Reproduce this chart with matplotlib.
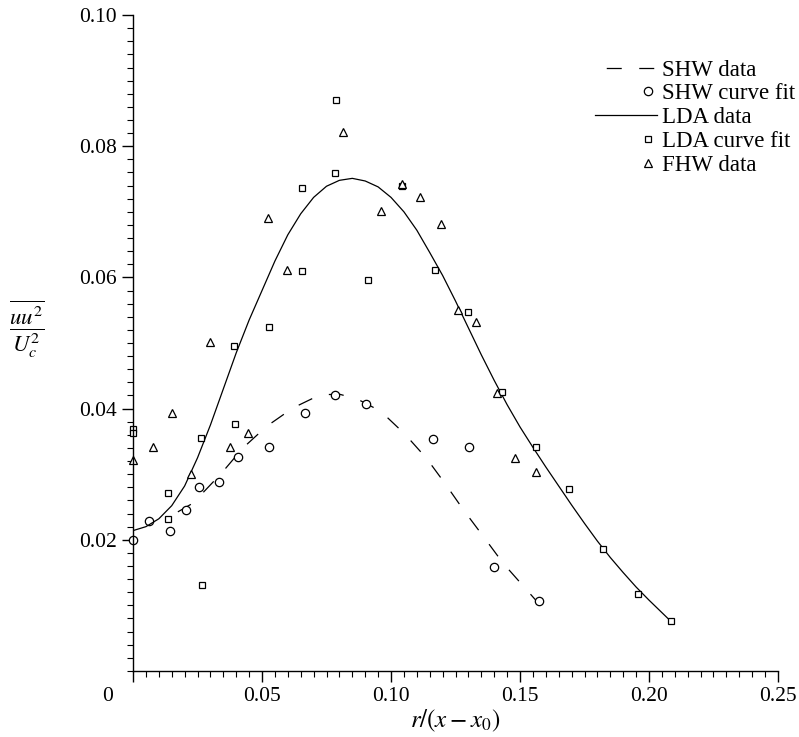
import matplotlib
matplotlib.use('Agg')
import matplotlib.pyplot as plt
import matplotlib.transforms as mtransforms
from matplotlib.legend_handler import HandlerLine2D
from matplotlib.ticker import MultipleLocator

plt.rcParams['font.family'] = ['Liberation Serif', 'DejaVu Serif']
plt.rcParams['mathtext.fontset'] = 'stix'

# SHW curve fit (circles)
shw_x = [0.0, 0.0063, 0.0143, 0.0205, 0.0255, 0.0335, 0.0406, 0.0527, 0.0667, 0.0784,
         0.0903, 0.1164, 0.1301, 0.1400, 0.1574]
shw_y = [0.0200, 0.0228, 0.0214, 0.0245, 0.0280, 0.0288, 0.0326, 0.0341, 0.0393, 0.0421,
         0.0407, 0.0354, 0.0342, 0.0158, 0.0106]

# LDA curve fit (squares)
lda_x = [0.0, 0.0, 0.0134, 0.0134, 0.0264, 0.0266, 0.0393, 0.0395, 0.0526, 0.0656, 0.0656,
         0.0784, 0.0787, 0.0911, 0.1041, 0.1172, 0.1298, 0.1429, 0.1561, 0.1691, 0.1823,
         0.1956, 0.2084]
lda_y = [0.0369, 0.0363, 0.0271, 0.0231, 0.0355, 0.0131, 0.0495, 0.0376, 0.0525, 0.0737,
         0.0610, 0.0759, 0.0870, 0.0596, 0.0740, 0.0611, 0.0548, 0.0425, 0.0341, 0.0277,
         0.0186, 0.0118, 0.0076]

# FHW data (triangles)
fhw_x = [0.0, 0.0076, 0.0152, 0.0224, 0.0298, 0.0376, 0.0444, 0.0524, 0.0596, 0.0813,
         0.0962, 0.1041, 0.1112, 0.1192, 0.1259, 0.1328, 0.1412, 0.1481, 0.1561]
fhw_y = [0.0322, 0.0341, 0.0393, 0.0301, 0.0501, 0.0341, 0.0363, 0.0691, 0.0611, 0.0822,
         0.0702, 0.0742, 0.0722, 0.0682, 0.0551, 0.0532, 0.0424, 0.0324, 0.0304]

# SHW data (dashed curve)
shw_line_x = [0.0136, 0.0233, 0.0344, 0.0426, 0.0518, 0.0620, 0.0725, 0.0800, 0.0872,
              0.0960, 0.1054, 0.1138, 0.1209, 0.1280, 0.1358, 0.1435, 0.1525, 0.1599]
shw_line_y = [0.0234, 0.0256, 0.0302, 0.0340, 0.0373, 0.0401, 0.0421, 0.0422, 0.0414,
              0.0396, 0.0361, 0.0324, 0.0286, 0.0246, 0.0205, 0.0164, 0.0124, 0.0091]

# LDA data (solid curve)
lda_line_x = [0.0, 0.005, 0.010, 0.015, 0.020, 0.025, 0.030, 0.035, 0.040, 0.045, 0.050,
              0.055, 0.060, 0.065, 0.070, 0.075, 0.080, 0.085, 0.090, 0.095, 0.100, 0.105,
              0.110, 0.115, 0.120, 0.125, 0.130, 0.135, 0.140, 0.145, 0.150, 0.155, 0.160,
              0.165, 0.170, 0.175, 0.180, 0.185, 0.190, 0.195, 0.200, 0.2084]
lda_line_y = [0.0214, 0.0220, 0.0232, 0.0252, 0.0282, 0.0325, 0.0375, 0.0430, 0.0485,
              0.0535, 0.0580, 0.0625, 0.0665, 0.0697, 0.0722, 0.0739, 0.0748, 0.0751,
              0.0747, 0.0738, 0.0722, 0.0700, 0.0672, 0.0638, 0.0603, 0.0564, 0.0523,
              0.0482, 0.0443, 0.0406, 0.0372, 0.0341, 0.0311, 0.0282, 0.0253, 0.0225,
              0.0198, 0.0173, 0.0150, 0.0128, 0.0108, 0.0076]

xticks = [0, 0.05, 0.10, 0.15, 0.20, 0.25]
xtick_labels = ['0', '0.05', '0.10', '0.15', '0.20', '0.25']
yticks = [0.02, 0.04, 0.06, 0.08, 0.10]
ytick_labels = ['0.02', '0.04', '0.06', '0.08', '0.10']


class RightMarker(HandlerLine2D):
    # single marker near the right end of the legend handle
    def get_xdata(self, legend, xdescent, ydescent, width, height, fontsize):
        x = -xdescent + width * 0.86
        return [x], [x]


fig = plt.figure(figsize=(7.99, 7.37), dpi=100)
ax = fig.add_axes([0.1665, 0.0896, 0.8072, 0.89])

ln_shw, = ax.plot(shw_line_x, shw_line_y, color='black', lw=0.9,
                  ls=(17, (12, 14)), label='SHW data')
mk_shw, = ax.plot(shw_x, shw_y, 'o', ms=6, mfc='white', mec='black', mew=0.9,
                  ls='none', label='SHW curve fit')
ln_lda, = ax.plot(lda_line_x, lda_line_y, color='black', lw=0.9, label='LDA data')
mk_lda, = ax.plot(lda_x, lda_y, 's', ms=5, mfc='white', mec='black', mew=0.9,
                  ls='none', label='LDA curve fit')
mk_fhw, = ax.plot(fhw_x, fhw_y, '^', ms=5.5, mfc='white', mec='black', mew=0.9,
                  ls='none', label='FHW data')
for m in (mk_shw, mk_lda, mk_fhw):
    m.set_clip_on(False)

ax.set_xlim(0, 0.25)
ax.set_ylim(0, 0.10)
ax.spines['top'].set_visible(False)
ax.spines['right'].set_visible(False)
ax.spines['left'].set_linewidth(1.0)
ax.spines['bottom'].set_linewidth(1.0)

ax.set_xticks(xticks)
ax.set_xticklabels(xtick_labels)
ax.set_yticks(yticks)
ax.set_yticklabels(ytick_labels)
ax.xaxis.set_minor_locator(MultipleLocator(0.005))
ax.yaxis.set_minor_locator(MultipleLocator(0.002))
ax.tick_params(which='major', direction='out', length=8, width=1.0, labelsize=15.5, pad=3.5)
ax.tick_params(which='minor', direction='out', length=4.5, width=0.8)

# shift the origin label to the left of the corner
off = mtransforms.ScaledTranslation(-25 / 100, 0, fig.dpi_scale_trans)
lbl0 = ax.get_xticklabels()[0]
lbl0.set_transform(lbl0.get_transform() + off)

ax.set_xlabel(r'$r/(x-x_0)$', fontsize=18, labelpad=1)
ax.set_ylabel(r'$\dfrac{\overline{uu^2}}{U_c^2}$', fontsize=16.5, rotation=0, va='center')
ax.yaxis.set_label_coords(-0.165, 0.52)

hm = {mk_shw: RightMarker(numpoints=2), mk_lda: RightMarker(numpoints=2),
      mk_fhw: RightMarker(numpoints=2)}
ax.legend(handles=[ln_shw, mk_shw, ln_lda, mk_lda, mk_fhw], handler_map=hm,
          loc='upper left', bbox_to_anchor=(0.716, 0.932), frameon=False,
          fontsize=16.5, handlelength=2.7, handletextpad=0.22, labelspacing=0.12,
          borderpad=0, borderaxespad=0)

fig.savefig('out.png', dpi=100)
